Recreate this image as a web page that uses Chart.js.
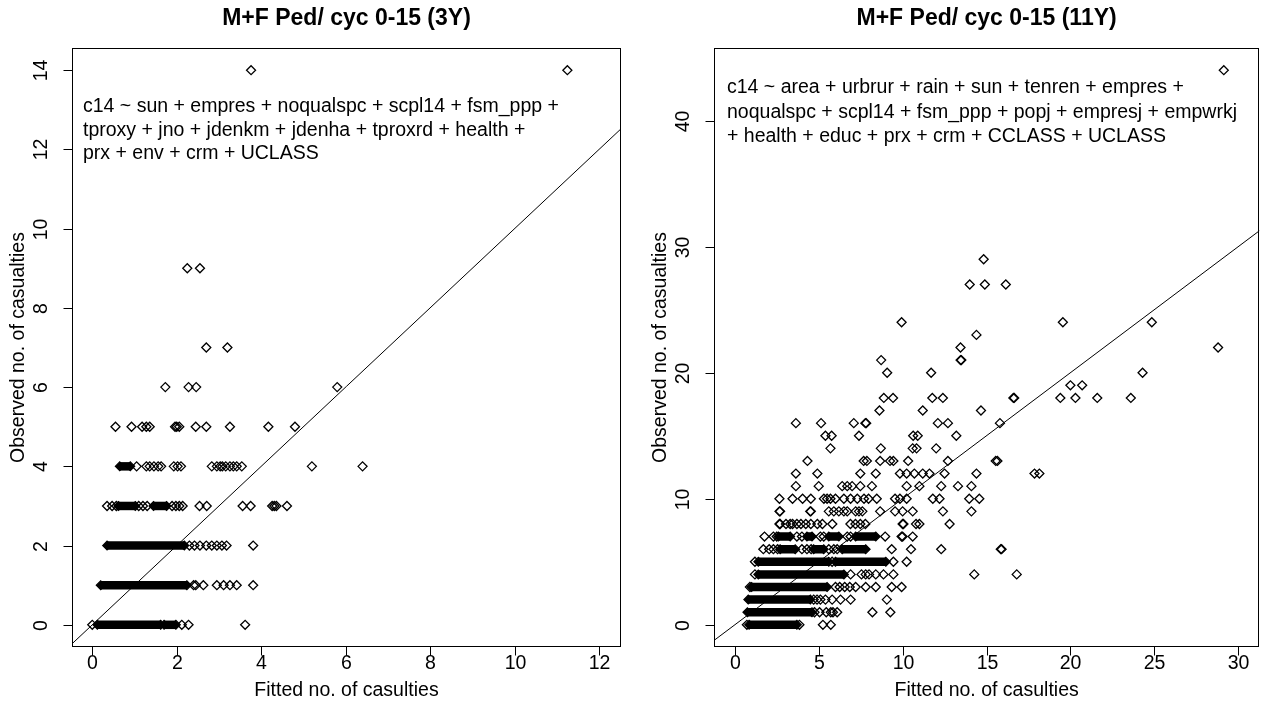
<!DOCTYPE html>
<html>
<head>
<meta charset="utf-8">
<script src="https://cdn.jsdelivr.net/npm/chart.js@4.4.1/dist/chart.umd.min.js"></script>
<style>
html, body { margin: 0; padding: 0; background: #fff; }
#wrap { position: relative; width: 1265px; height: 708px; overflow: hidden; }
canvas { position: absolute; top: 0; }
</style>
</head>
<body>
<div id="wrap">
  <canvas id="g3y" width="640" height="708" style="left:0px"></canvas>
  <canvas id="g11y" width="625" height="708" style="left:640px"></canvas>
</div>
<script>
// ---------- 3Y model (left) ----------
const ticks3yX = [0, 2, 4, 6, 8, 10, 12];
const ticks3yY = [0, 2, 4, 6, 8, 10, 12, 14];
// single points, one list per observed value
const obs3y = [0, 1, 2, 3, 4, 5, 6, 7, 9, 14];
const fit3y = [
  [0.00, 2.12, 2.28, 3.62],
  [2.40, 2.45, 2.63, 2.95, 3.11, 3.26, 3.42, 3.81],
  [2.30, 2.42, 2.55, 2.70, 2.83, 2.95, 3.07, 3.18, 3.81],
  [0.35, 0.47, 0.57, 1.10, 1.20, 1.30, 1.89, 1.98, 2.06, 2.14, 2.54, 2.71, 3.56, 3.75, 4.26, 4.31, 4.36, 4.61],
  [1.05, 1.28, 1.36, 1.46, 1.56, 1.63, 1.93, 2.02, 2.10, 2.83, 2.95, 3.03, 3.08, 3.16, 3.26, 3.34, 3.42, 3.54, 5.20, 6.40],
  [0.55, 0.93, 1.18, 1.28, 1.36, 1.96, 2.00, 2.06, 2.45, 2.70, 3.26, 4.17, 4.80],
  [1.73, 2.28, 2.46, 5.80],
  [2.70, 3.20],
  [2.25, 2.55],
  [3.76, 11.25]
];
// runs of overlapping points (solid black)
const band3yObs  = [0, 0, 1, 2, 3, 3, 4];
const band3yFrom = [0.12, 1.70, 0.20, 0.35, 0.62, 1.45, 0.65];
const band3yTo   = [1.62, 1.98, 2.24, 2.18, 1.02, 1.76, 0.90];
const formula3y = [
  "c14 ~ sun + empres + noqualspc + scpl14 + fsm_ppp +",
  "tproxy + jno + jdenkm + jdenha + tproxrd + health +",
  "prx + env + crm + UCLASS"
];

// ---------- 11Y model (right) ----------
const ticks11yX = [0, 5, 10, 15, 20, 25, 30];
const ticks11yY = [0, 10, 20, 30, 40];
const obs11y = [0, 1, 2, 3, 4, 5, 6, 7, 8, 9, 10, 11, 12, 13, 14, 15, 16, 17, 18, 19, 20, 21, 22, 23, 24, 27, 29, 44];
const fit11y = [
  [0.72, 3.85, 5.25, 5.72],
  [4.75, 5.05, 5.45, 5.72, 5.85, 6.10, 8.20, 9.27],
  [4.70, 4.90, 5.10, 5.40, 5.80, 6.30, 6.90, 9.06],
  [0.90, 6.00, 6.25, 6.55, 6.85, 7.20, 7.80, 8.40, 9.35, 9.94],
  [1.20, 6.90, 7.55, 7.80, 8.00, 8.40, 8.86, 9.45, 14.27, 16.80],
  [1.20, 5.80, 9.45, 10.24],
  [1.70, 2.05, 2.30, 2.55, 4.00, 4.30, 4.55, 5.60, 5.90, 6.10, 9.35, 10.50, 12.30, 15.85, 15.90],
  [1.77, 2.30, 2.50, 3.70, 4.00, 5.10, 5.30, 6.70, 6.90, 8.96, 9.94, 10.00, 10.60],
  [2.66, 2.70, 3.05, 3.30, 3.44, 3.70, 3.94, 4.23, 4.53, 4.92, 5.22, 5.81, 6.89, 7.19, 7.48, 7.78, 10.00, 10.05, 10.80, 11.00, 12.80],
  [2.66, 2.70, 4.49, 4.53, 5.60, 5.90, 6.20, 6.50, 6.70, 7.20, 7.40, 7.60, 8.66, 9.55, 10.00, 10.60, 12.40, 14.10],
  [2.66, 3.44, 4.04, 4.53, 5.31, 5.50, 5.70, 6.00, 6.50, 6.90, 7.30, 7.70, 7.97, 8.46, 9.55, 9.84, 10.24, 11.80, 12.20, 13.97, 14.57],
  [3.64, 5.00, 6.40, 6.70, 6.99, 7.48, 8.17, 10.24, 11.00, 12.30, 13.30, 14.10],
  [3.64, 4.92, 7.48, 8.40, 9.84, 10.24, 10.70, 11.20, 11.60, 12.50, 14.40, 17.86, 18.15],
  [4.33, 7.68, 7.87, 8.66, 9.25, 9.45, 10.33, 12.70, 15.55, 15.65],
  [5.70, 8.70, 10.60, 10.83, 12.00],
  [5.40, 5.77, 7.40, 10.63, 10.90, 13.20],
  [3.64, 5.14, 7.09, 7.78, 7.83, 12.10, 12.70, 15.80],
  [8.62, 11.20, 14.67],
  [8.88, 9.43, 11.77, 12.40, 16.60, 16.65, 19.40, 20.30, 21.60, 23.60],
  [20.00, 20.70],
  [9.08, 11.70, 24.30],
  [8.72, 13.45, 13.50],
  [13.45, 28.80],
  [14.40],
  [9.94, 19.55, 24.85],
  [14.00, 14.90, 16.15],
  [14.83],
  [29.14]
];
const band11yObs  = [0, 1, 2, 3, 4, 5, 5, 6, 6, 6, 7, 7, 7, 7];
const band11yFrom = [0.85, 0.75, 0.80, 1.00, 1.40, 1.40, 6.00, 2.70, 4.70, 6.40, 2.60, 4.30, 5.60, 7.20];
const band11yTo   = [3.70, 4.60, 4.50, 5.50, 6.50, 5.60, 9.00, 3.60, 5.30, 7.80, 3.30, 4.60, 6.20, 8.40];
const formula11y = [
  "c14 ~ area + urbrur + rain + sun + tenren + empres +",
  "noqualspc + scpl14 + fsm_ppp + popj + empresj + empwrkj",
  "+ health + educ + prx + crm + CCLASS + UCLASS"
];

// observed = fitted
const refLine = [-5, 60];

const FONT = "'Liberation Sans', Arial, sans-serif";

// box, ticks, labels and text the way R's plot() draws them
const rFrame = {
  id: 'rFrame',
  afterDraw(chart, args, o) {
    const ctx = chart.ctx;
    const a = chart.chartArea;
    const xs = chart.scales.x, ys = chart.scales.y;
    const L = Math.round(a.left) + 0.5, R = Math.round(a.right) - 0.5;
    const T = Math.round(a.top) + 0.5, B = Math.round(a.bottom) - 0.5;
    ctx.save();
    ctx.strokeStyle = '#000';
    ctx.fillStyle = '#000';
    ctx.lineWidth = 1;
    ctx.strokeRect(L, T, R - L, B - T);

    ctx.font = '19.5px ' + FONT;
    ctx.textAlign = 'center';
    ctx.textBaseline = 'middle';
    o.xTicks.forEach(t => {
      const px = Math.round(xs.getPixelForValue(t)) + 0.5;
      ctx.beginPath(); ctx.moveTo(px, B); ctx.lineTo(px, B + 9); ctx.stroke();
      ctx.fillText(String(t), px, o.xLabelY);
    });
    o.yTicks.forEach(t => {
      const py = Math.round(ys.getPixelForValue(t)) + 0.5;
      ctx.beginPath(); ctx.moveTo(L, py); ctx.lineTo(L - 9, py); ctx.stroke();
      ctx.save();
      ctx.translate(a.left - o.yLabelDx, py);
      ctx.rotate(-Math.PI / 2);
      ctx.fillText(String(t), 0, 0);
      ctx.restore();
    });

    const cx = (a.left + a.right) / 2, cy = (a.top + a.bottom) / 2;
    ctx.fillText(o.xTitle, cx, o.xTitleY);
    ctx.save();
    ctx.translate(a.left - o.yTitleDx, cy);
    ctx.rotate(-Math.PI / 2);
    ctx.fillText(o.yTitle, 0, 0);
    ctx.restore();

    ctx.textAlign = 'left';
    o.formula.forEach((s, i) => ctx.fillText(s, a.left + o.formulaDx, o.formulaY + i * o.formulaGap));

    ctx.font = 'bold 23px ' + FONT;
    ctx.textAlign = 'center';
    ctx.fillText(o.title, cx, o.titleY);
    ctx.restore();
  }
};

function makeChart(id, fits, obs, bObs, bFrom, bTo, xr, yr, pad, frame) {
  const points = fits.flatMap((row, i) => row.map(v => ({ x: v, y: obs[i] })));
  const bands = bObs.map((o, i) => ({
    data: [{ x: bFrom[i], y: o }, { x: bTo[i], y: o }],
    showLine: true,
    borderColor: '#000',
    borderWidth: 8.5,
    borderCapStyle: 'butt',
    pointStyle: 'rectRot',
    pointRadius: 4.4,
    pointBackgroundColor: '#000',
    pointBorderColor: '#000',
    pointBorderWidth: 1.2
  }));
  new Chart(document.getElementById(id), {
    type: 'scatter',
    data: {
      datasets: [
        {
          data: refLine.map(v => ({ x: v, y: v })),
          showLine: true,
          borderColor: '#000',
          borderWidth: 1,
          pointRadius: 0
        },
        {
          data: points,
          pointStyle: 'rectRot',
          pointRadius: 4.5,
          pointBorderColor: '#000',
          pointBackgroundColor: 'rgba(0,0,0,0)',
          pointBorderWidth: 1.3
        },
        ...bands
      ]
    },
    options: {
      responsive: false,
      animation: false,
      events: [],
      layout: { padding: pad },
      plugins: { legend: { display: false }, tooltip: { enabled: false }, rFrame: frame },
      scales: {
        x: { type: 'linear', min: xr[0], max: xr[1], display: false },
        y: { type: 'linear', min: yr[0], max: yr[1], display: false }
      }
    },
    plugins: [rFrame]
  });
}

makeChart('g3y', fit3y, obs3y, band3yObs, band3yFrom, band3yTo,
  [-0.48, 12.52], [-0.56, 14.56],
  { left: 72, right: 19, top: 48, bottom: 61 },
  {
    title: 'M+F Ped/ cyc 0-15 (3Y)', titleY: 19,
    xTicks: ticks3yX, yTicks: ticks3yY,
    xLabelY: 664, yLabelDx: 30,
    xTitle: 'Fitted no. of casulties', xTitleY: 691,
    yTitle: 'Observed no. of casualties', yTitleDx: 53,
    formula: formula3y, formulaDx: 11, formulaY: 107, formulaGap: 23.5
  });

makeChart('g11y', fit11y, obs11y, band11yObs, band11yFrom, band11yTo,
  [-1.24, 31.25], [-1.76, 45.76],
  { left: 74, right: 2, top: 48, bottom: 61 },
  {
    title: 'M+F Ped/ cyc 0-15 (11Y)', titleY: 19,
    xTicks: ticks11yX, yTicks: ticks11yY,
    xLabelY: 664, yLabelDx: 30,
    xTitle: 'Fitted no. of casulties', xTitleY: 691,
    yTitle: 'Observed no. of casualties', yTitleDx: 53,
    formula: formula11y, formulaDx: 13, formulaY: 88, formulaGap: 24.5
  });
</script>
</body>
</html>
